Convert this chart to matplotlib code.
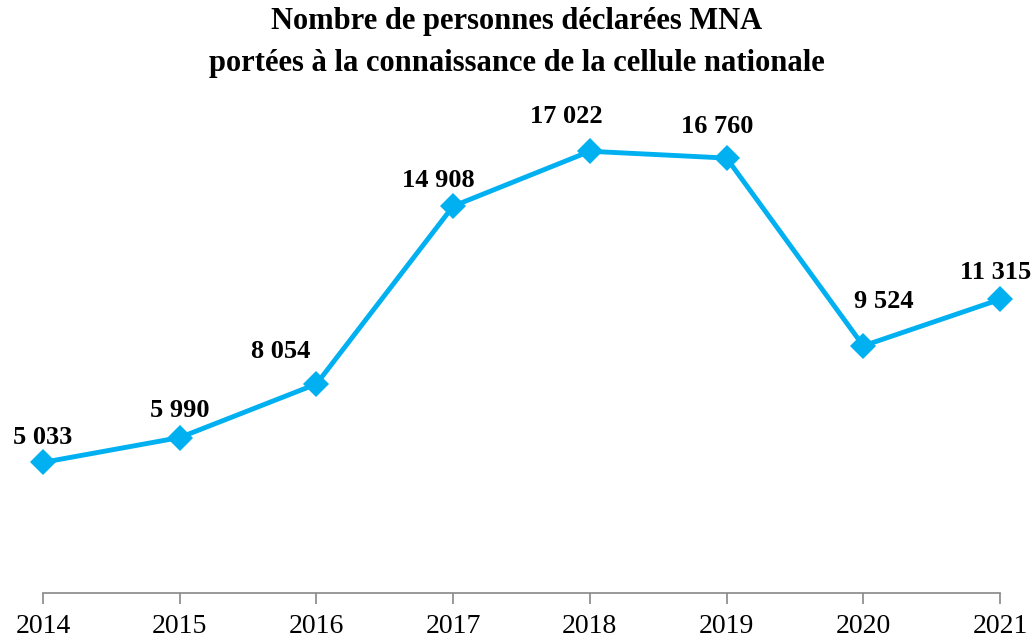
import matplotlib.pyplot as plt

years = [2014, 2015, 2016, 2017, 2018, 2019, 2020, 2021]
counts = [5033, 5990, 8054, 14908, 17022, 16760, 9524, 11315]
labels = ['5 033', '5 990', '8 054', '14 908', '17 022', '16 760', '9 524', '11 315']

# label offsets in pixels (dx, dy) from each point
offsets = [(0, 25), (0, 27), (-36, 32), (-15, 26), (-24, 35), (-9, 32), (21, 44), (-4, 27)]

plt.rcParams['font.family'] = ['Liberation Serif', 'DejaVu Serif']

fig = plt.figure(figsize=(10.34, 6.37), dpi=100)
ax = fig.add_axes([43 / 1034, 44 / 637, 957 / 1034, (593 - 74) / 637])

ax.plot(years, counts, color='#00B0F0', lw=3.5, marker='D', markersize=13,
        markeredgewidth=0, clip_on=False, zorder=3)

for x, y, lab, (dx, dy) in zip(years, counts, labels, offsets):
    ax.annotate(lab, (x, y), xytext=(dx, dy), textcoords='offset pixels',
                ha='center', va='center', fontsize=19, fontweight='bold',
                annotation_clip=False)

ax.set_xlim(years[0], years[-1])
ax.set_ylim(0, 20000)
ax.set_xticks(years)
ax.set_xticklabels([str(y) for y in years], fontsize=20)
ax.set_yticks([])
for s in ['top', 'right', 'left']:
    ax.spines[s].set_visible(False)
ax.spines['bottom'].set_color('#888888')
ax.spines['bottom'].set_linewidth(1.2)
ax.tick_params(axis='x', direction='out', length=8, width=1.2, color='#888888', pad=7)

fig.text(0.5, 1 - 22 / 637, 'Nombre de personnes déclarées MNA', ha='center', va='center',
         fontsize=22, fontweight='bold')
fig.text(0.5, 1 - 63 / 637, 'portées à la connaissance de la cellule nationale', ha='center',
         va='center', fontsize=22, fontweight='bold')

fig.savefig('out.png', dpi=100)
